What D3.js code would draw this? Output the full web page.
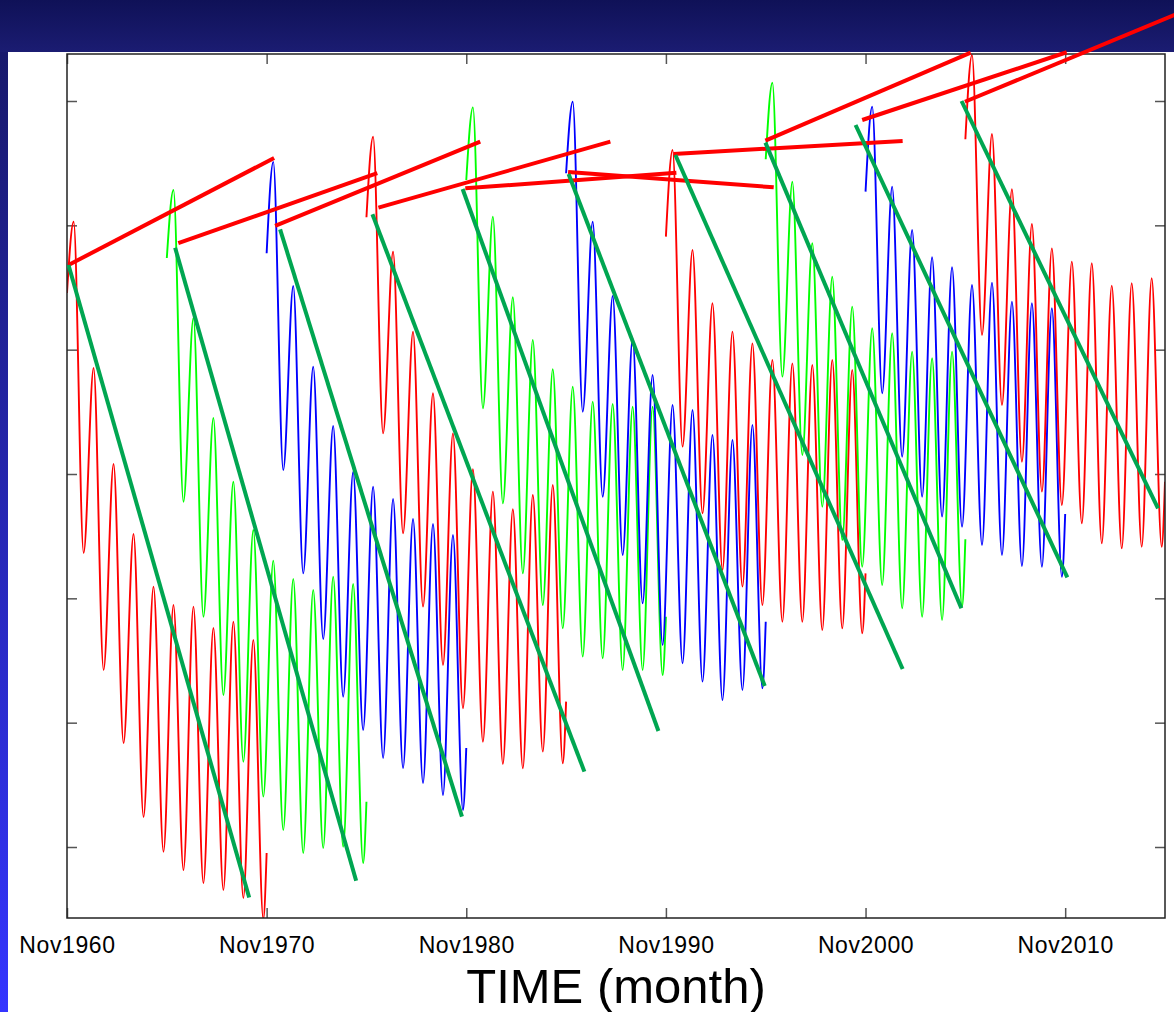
<!DOCTYPE html>
<html>
<head>
<meta charset="utf-8">
<script src="https://cdn.jsdelivr.net/npm/d3@7"></script>
<style>
  body { margin: 0; background: #fff; }
  svg { display: block; }
</style>
</head>
<body>
<script>
// tick labels on the time axis (months counted from Nov 1960)
const tickMonths = [0, 120, 240, 360, 480, 600];
const tickLabels = ["Nov1960", "Nov1970", "Nov1980", "Nov1990", "Nov2000", "Nov2010"];
const yTicks = [1, 2, 3, 4, 5, 6, 7];

// month offsets inside each 10 year piece: start, peak/trough pairs, end
const extremaMonths = [0, 4, 10, 16, 22, 28, 34, 40, 46, 52, 58, 64, 70, 76, 82, 88, 94, 100, 106, 112, 118, 120];

// start of each piece and its colour
const segmentStarts = [0, 60, 120, 180, 240, 300, 360, 420, 480, 540];
const segmentColors = ["#ff0000", "#00ff00", "#0000ff", "#ff0000", "#00ff00", "#0000ff", "#ff0000", "#00ff00", "#0000ff", "#ff0000"];

// values read at start, peaks, troughs and end of every piece
const red1960   = [5.456, 6.029, 3.365, 4.853, 2.424, 4.081, 1.836, 3.517, 1.241, 3.094, 0.962, 2.946, 0.815, 2.933, 0.710, 2.761, 0.654, 2.812, 0.590, 2.665, 0.420, 0.952];
const green1965 = [5.737, 6.284, 3.777, 5.255, 2.852, 4.451, 2.223, 3.938, 1.686, 3.550, 1.405, 3.303, 1.137, 3.156, 0.952, 3.067, 0.992, 3.174, 1.002, 3.115, 0.871, 1.364];
const blue1970  = [5.775, 6.510, 4.032, 5.512, 3.201, 4.863, 2.673, 4.386, 2.209, 4.016, 1.941, 3.898, 1.716, 3.799, 1.635, 3.638, 1.515, 3.598, 1.418, 3.509, 1.298, 1.796];
const red1975   = [6.065, 6.713, 4.327, 5.788, 3.523, 5.145, 2.933, 4.649, 2.464, 4.327, 2.116, 4.038, 1.847, 3.858, 1.668, 3.716, 1.633, 3.831, 1.767, 3.912, 1.673, 2.169];
const green1980 = [6.365, 6.949, 4.528, 6.070, 3.764, 5.421, 3.201, 5.078, 2.946, 4.842, 2.759, 4.702, 2.531, 4.582, 2.518, 4.563, 2.424, 4.541, 2.424, 4.541, 2.383, 2.852];
const blue1985  = [6.419, 6.994, 4.501, 6.029, 3.817, 5.432, 3.349, 5.091, 2.960, 4.796, 2.625, 4.555, 2.478, 4.515, 2.330, 4.314, 2.182, 4.274, 2.263, 4.394, 2.276, 2.812];
const red1990   = [5.909, 6.606, 4.220, 5.802, 3.684, 5.373, 3.228, 5.145, 3.094, 5.051, 2.946, 4.917, 2.812, 4.890, 2.812, 4.877, 2.745, 4.917, 2.759, 4.837, 2.719, 3.201];
const green1995 = [6.531, 7.147, 4.783, 6.351, 4.153, 5.856, 3.737, 5.587, 3.469, 5.346, 3.254, 5.172, 3.107, 5.132, 2.920, 4.984, 2.852, 4.931, 2.826, 4.984, 2.933, 3.475];
const blue2000  = [6.271, 6.954, 4.649, 6.311, 4.139, 5.963, 3.817, 5.743, 3.657, 5.663, 3.576, 5.520, 3.429, 5.539, 3.349, 5.386, 3.260, 5.373, 3.254, 5.333, 3.174, 3.678];
const red2005   = [6.692, 7.370, 5.118, 6.735, 4.555, 6.290, 4.099, 6.011, 3.858, 5.815, 3.751, 5.708, 3.604, 5.695, 3.443, 5.515, 3.402, 5.534, 3.415, 5.574, 3.415, 3.938];
const segments = [red1960, green1965, blue1970, red1975, green1980, blue1985, red1990, green1995, blue2000, red2005];

// fitted decay lines: [startMonth, startValue, endMonth, endValue]
const greenFits = [
  [0.9, 5.681, 109.5, 0.594],
  [65.0, 5.820, 173.8, 0.729],
  [128.1, 5.968, 237.4, 1.244],
  [183.6, 6.089, 311.0, 1.606],
  [237.8, 6.292, 355.5, 1.933],
  [301.5, 6.413, 419.4, 2.295],
  [365.7, 6.566, 502.3, 2.432],
  [419.8, 6.665, 537.6, 2.920],
  [474.0, 6.807, 601.3, 3.169],
  [537.7, 7.000, 655.8, 3.724]
];

// lines joining the starts: [startMonth, startValue, endMonth, endValue]
const redLinks = [
  [0.9, 5.681, 124.5, 6.542],
  [66.9, 5.856, 186.5, 6.419],
  [125.1, 5.995, 248.4, 6.673],
  [187.2, 6.142, 326.6, 6.673],
  [239.4, 6.298, 366.3, 6.423],
  [301.2, 6.429, 424.8, 6.306],
  [364.5, 6.574, 502.3, 6.678],
  [419.8, 6.681, 543.2, 7.389],
  [478.0, 6.847, 600.9, 7.392],
  [539.7, 6.994, 667.1, 7.700]
];

const W = 1174, H = 1012;
const plotLeft = 67, plotRight = 1165, plotTop = 54, plotBottom = 918;

const svg = d3.select("body").append("svg")
  .attr("width", W)
  .attr("height", H);

const defs = svg.append("defs");

const banner = defs.append("linearGradient")
  .attr("id", "banner")
  .attr("x1", 0).attr("y1", 0).attr("x2", 0).attr("y2", 1);
banner.append("stop").attr("offset", "0%").attr("stop-color", "#0f1157");
banner.append("stop").attr("offset", "100%").attr("stop-color", "#1b1c72");

const strip = defs.append("linearGradient")
  .attr("id", "strip")
  .attr("x1", 0).attr("y1", 0).attr("x2", 0).attr("y2", 1);
strip.append("stop").attr("offset", "0%").attr("stop-color", "#18196c");
strip.append("stop").attr("offset", "100%").attr("stop-color", "#3535ff");

defs.append("clipPath")
  .attr("id", "plot-clip")
  .append("rect")
  .attr("x", plotLeft)
  .attr("y", plotTop)
  .attr("width", plotRight - plotLeft)
  .attr("height", plotBottom - plotTop);

// background slide pieces
svg.append("rect").attr("x", 0).attr("y", 0).attr("width", W).attr("height", 52).attr("fill", "url(#banner)");
svg.append("rect").attr("x", 0).attr("y", 52).attr("width", 8).attr("height", H - 52).attr("fill", "url(#strip)");

const x = d3.scaleLinear().domain([0, 660]).range([plotLeft, plotRight]);
const y = d3.scaleLinear().domain([0.429, 7.378]).range([plotBottom, plotTop]);

// axes, ticks pointing inwards on all four sides
function styleAxis(g) {
  g.select(".domain").remove();
  g.selectAll(".tick line").attr("stroke", "#555").attr("stroke-width", 1.5);
}

svg.append("g")
  .attr("transform", `translate(0,${plotBottom})`)
  .call(d3.axisBottom(x).tickValues(tickMonths).tickFormat((d, i) => tickLabels[i]).tickSize(-10).tickPadding(19))
  .call(styleAxis)
  .selectAll("text")
  .attr("fill", "#000")
  .style("font-family", "'Liberation Sans', Arial, sans-serif")
  .style("font-size", "23px")
  .style("letter-spacing", "0.6px");

svg.append("g")
  .attr("transform", `translate(0,${plotTop})`)
  .call(d3.axisTop(x).tickValues(tickMonths).tickFormat("").tickSize(-10))
  .call(styleAxis);

svg.append("g")
  .attr("transform", `translate(${plotLeft},0)`)
  .call(d3.axisLeft(y).tickValues(yTicks).tickFormat("").tickSize(-10))
  .call(styleAxis);

svg.append("g")
  .attr("transform", `translate(${plotRight},0)`)
  .call(d3.axisRight(y).tickValues(yTicks).tickFormat("").tickSize(-10))
  .call(styleAxis);

// monthly curves
const line = d3.line()
  .x(d => x(d[0]))
  .y(d => y(d[1]))
  .curve(d3.curveMonotoneX);

svg.append("g")
  .attr("clip-path", "url(#plot-clip)")
  .selectAll("path")
  .data(segments)
  .join("path")
  .attr("d", (vals, k) => line(extremaMonths.map((m, i) => [segmentStarts[k] + m, vals[i]])))
  .attr("fill", "none")
  .attr("stroke", (d, k) => segmentColors[k])
  .attr("stroke-width", 1.9)
  .attr("stroke-linejoin", "round");

// frame
svg.append("rect")
  .attr("x", plotLeft)
  .attr("y", plotTop)
  .attr("width", plotRight - plotLeft)
  .attr("height", plotBottom - plotTop)
  .attr("fill", "none")
  .attr("stroke", "#222")
  .attr("stroke-width", 1.5);

// red lines joining piece starts
svg.append("g")
  .selectAll("line")
  .data(redLinks)
  .join("line")
  .attr("x1", d => x(d[0]))
  .attr("y1", d => y(d[1]))
  .attr("x2", d => x(d[2]))
  .attr("y2", d => y(d[3]))
  .attr("stroke", "#ff0000")
  .attr("stroke-width", 4);

// green decay fits
svg.append("g")
  .selectAll("line")
  .data(greenFits)
  .join("line")
  .attr("x1", d => x(d[0]))
  .attr("y1", d => y(d[1]))
  .attr("x2", d => x(d[2]))
  .attr("y2", d => y(d[3]))
  .attr("stroke", "#00a651")
  .attr("stroke-width", 4);

// axis title
svg.append("text")
  .attr("x", (plotLeft + plotRight) / 2)
  .attr("y", 1003)
  .attr("text-anchor", "middle")
  .style("font-family", "'Liberation Sans', Arial, sans-serif")
  .style("font-size", "49px")
  .text("TIME (month)");
</script>
</body>
</html>
